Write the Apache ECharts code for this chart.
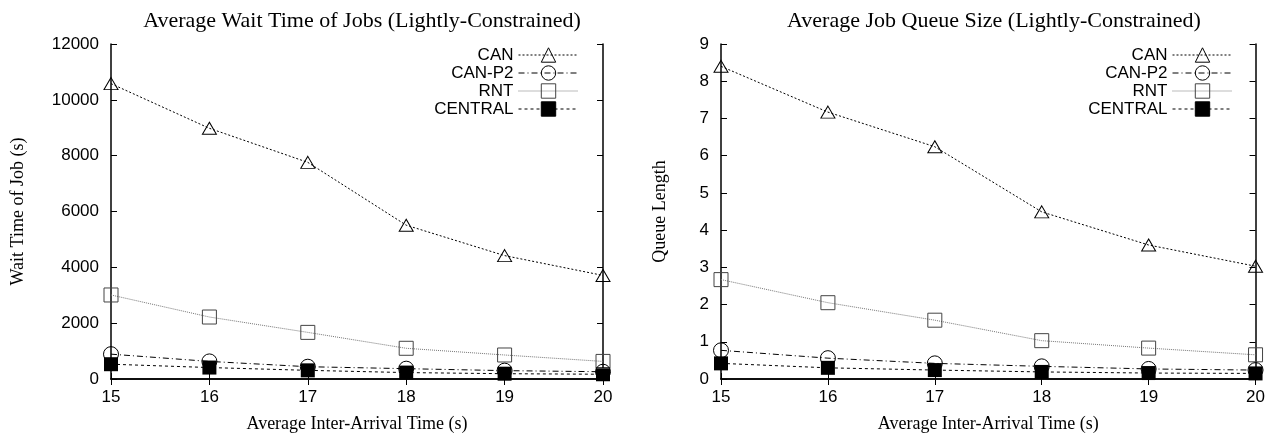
<!DOCTYPE html>
<html>
<head>
<meta charset="utf-8">
<script src="https://cdn.jsdelivr.net/npm/echarts@6/dist/echarts.min.js"></script>
<style>
html,body{margin:0;padding:0;background:#fff;}
#c{width:1268px;height:438px;}
</style>
</head>
<body>
<div id="c"></div>
<script>
// ---- data ----
const xValues = [15, 16, 17, 18, 19, 20];
const seriesNames = ['CAN', 'CAN-P2', 'RNT', 'CENTRAL'];

const waitCAN     = [10580, 8980, 7760, 5510, 4420, 3710];
const waitCANP2   = [890, 630, 440, 370, 300, 260];
const waitRNT     = [3010, 2220, 1670, 1100, 860, 630];
const waitCENTRAL = [530, 410, 310, 230, 190, 170];

const queueCAN     = [8.40, 7.17, 6.24, 4.49, 3.60, 3.03];
const queueCANP2   = [0.77, 0.56, 0.42, 0.34, 0.27, 0.24];
const queueRNT     = [2.67, 2.05, 1.58, 1.03, 0.83, 0.65];
const queueCENTRAL = [0.42, 0.30, 0.24, 0.19, 0.16, 0.15];

const titles = ['Average Wait Time of Jobs (Lightly-Constrained)', 'Average Job Queue Size (Lightly-Constrained)'];
const xName = 'Average Inter-Arrival Time (s)';
const yNames = ['Wait Time of Job (s)', 'Queue Length'];

// ---- styles ----
const SERIF = '"Liberation Serif", "Times New Roman", serif';
const SANS = '"Liberation Sans", Arial, sans-serif';
const HOLLOW = 'rgba(255,255,255,0)';
const styles = {
  'CAN':     { symbol: 'triangle', size: [14, 12], line: { color: '#000', type: [2, 2], width: 1 }, item: { color: HOLLOW, borderColor: '#000', borderWidth: 1 } },
  'CAN-P2':  { symbol: 'circle', size: 15, line: { color: '#000', type: [6, 3, 1, 3], width: 1 }, item: { color: HOLLOW, borderColor: '#000', borderWidth: 1 } },
  'RNT':     { symbol: 'rect', size: 14, line: { color: '#777', type: [1, 1], width: 1 }, item: { color: HOLLOW, borderColor: '#444', borderWidth: 1 } },
  'CENTRAL': { symbol: 'rect', size: 14, line: { color: '#000', type: [3, 3], width: 1 }, item: { color: '#000', borderColor: '#000', borderWidth: 0 } }
};

function zip(v) { return xValues.map((x, i) => [x, v[i]]); }

const grids = [
  { left: 111, top: 44, width: 492, height: 338 },
  { left: 721, top: 44, width: 536, height: 338 }
];
const yCfg = [
  { min: 0, max: 12000, interval: 2000, nameGap: 84 },
  { min: 0, max: 9, interval: 1, nameGap: 52 }
];
const seriesData = [
  [waitCAN, waitCANP2, waitRNT, waitCENTRAL],
  [queueCAN, queueCANP2, queueRNT, queueCENTRAL]
];

const axisLine = { show: true, lineStyle: { color: '#000', width: 1.5 } };
const axisTick = { show: true, inside: true, length: 6, lineStyle: { color: '#000', width: 1 } };
const plain = v => String(v);

const xAxis = [], yAxis = [], series = [], title = [], legend = [];
grids.forEach((g, k) => {
  xAxis.push({
    type: 'value', gridIndex: k, min: 15, max: 20, interval: 1, position: 'bottom',
    axisLine, axisTick, splitLine: { show: false },
    axisLabel: { color: '#000', fontFamily: SANS, fontSize: 17, margin: 10, formatter: plain },
    name: xName, nameLocation: 'middle', nameGap: 36,
    nameTextStyle: { color: '#000', fontFamily: SERIF, fontSize: 18 }
  });
  xAxis.push({
    type: 'value', gridIndex: k, min: 15, max: 20, interval: 1, position: 'top',
    axisLine, axisTick, splitLine: { show: false }, axisLabel: { show: false }
  });
  yAxis.push({
    type: 'value', gridIndex: k, min: yCfg[k].min, max: yCfg[k].max, interval: yCfg[k].interval, position: 'left',
    axisLine, axisTick, splitLine: { show: false },
    axisLabel: { color: '#000', fontFamily: SANS, fontSize: 17, margin: 12, formatter: plain },
    name: yNames[k], nameLocation: 'middle', nameGap: yCfg[k].nameGap, nameRotate: 90,
    nameTextStyle: { color: '#000', fontFamily: SERIF, fontSize: 18 }
  });
  yAxis.push({
    type: 'value', gridIndex: k, min: yCfg[k].min, max: yCfg[k].max, interval: yCfg[k].interval, position: 'right',
    axisLine, axisTick, splitLine: { show: false }, axisLabel: { show: false }
  });
  title.push({
    text: titles[k], left: g.left + g.width / 2, top: 5, textAlign: 'center',
    textStyle: { color: '#000', fontFamily: SERIF, fontSize: 22, fontWeight: 'normal' }
  });
  legend.push({
    orient: 'vertical', align: 'right',
    right: 1268 - (g.left + g.width - 24), top: 46,
    padding: 0, itemGap: 0, itemWidth: 60, itemHeight: 18,
    data: seriesNames,
    itemStyle: { borderWidth: 1 },
    lineStyle: { width: 1 },
    textStyle: { color: '#000', fontFamily: SANS, fontSize: 17, lineHeight: 18 },
    selectedMode: false
  });
  seriesNames.forEach((n, i) => {
    const s = styles[n];
    series.push({
      name: n, type: 'line', xAxisIndex: 2 * k, yAxisIndex: 2 * k,
      data: zip(seriesData[k][i]),
      symbol: s.symbol, symbolSize: s.size, showAllSymbol: true,
      lineStyle: s.line, itemStyle: s.item,
      animation: false, z: 10 - i
    });
  });
});

const chart = echarts.init(document.getElementById('c'), null, { renderer: 'canvas' });
chart.setOption({
  backgroundColor: '#fff',
  animation: false,
  grid: grids,
  title, legend, xAxis, yAxis, series
});
</script>
</body>
</html>
